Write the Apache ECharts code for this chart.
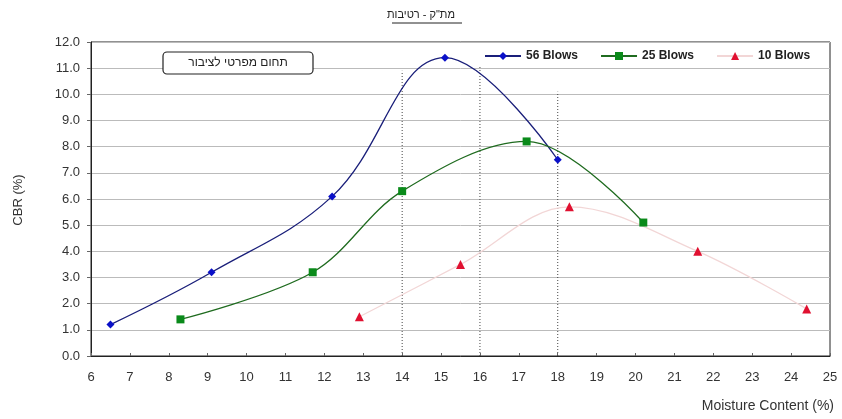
<!DOCTYPE html>
<html><head><meta charset="utf-8">
<script src="https://cdn.jsdelivr.net/npm/echarts@6/dist/echarts.min.js"></script>
<style>html,body{margin:0;padding:0;background:#fff}#c{width:842px;height:419px}</style>
</head><body><div id="c"></div>
<script>
const xTicks = [6,7,8,9,10,11,12,13,14,15,16,17,18,19,20,21,22,23,24,25];
const yTicks = [0,1,2,3,4,5,6,7,8,9,10,11,12];
const blows56 = [[6.5,1.2],[9.1,3.2],[12.2,6.1],[15.1,11.4],[18.0,7.5]];
const blows25 = [[8.3,1.4],[11.7,3.2],[14.0,6.3],[17.2,8.2],[20.2,5.1]];
const blows10 = [[12.9,1.5],[15.5,3.5],[18.3,5.7],[21.6,4.0],[24.4,1.8]];
const markerX = [14,16,18];
const markerTop = [10.9,11.3,10.1];
const seriesNames = ['56 Blows','25 Blows','10 Blows'];
const titleText = 'מת"ק - רטיבות';
const boxText = 'תחום מפרטי לציבור';
const xName = 'Moisture Content (%)';
const yName = 'CBR (%)';

const chart = echarts.init(document.getElementById('c'));
const font = 'Arial, "Liberation Sans", sans-serif';
const vSeries = markerX.map((x,i)=>({
  type:'line', name:'v'+i, data:[[x,0],[x,markerTop[i]]], symbol:'none', silent:true,
  lineStyle:{color:'#444', width:1, type:[1,2]}, z:1
}));
chart.setOption({
  animation:false,
  textStyle:{fontFamily:font},
  grid:{left:91,right:12,top:42,bottom:63,show:true,borderColor:'#222',borderWidth:1,containLabel:false},
  xAxis:{type:'value',min:6,max:25,interval:1,
    axisLine:{show:true,onZero:false,lineStyle:{color:'#222'}},
    axisTick:{show:true,inside:true,length:3,lineStyle:{color:'#666'}},
    axisLabel:{color:'#333',fontSize:13,margin:15,fontFamily:font},
    splitLine:{show:false}},
  yAxis:{type:'value',min:0,max:12,interval:1,
    axisLine:{show:true,lineStyle:{color:'#222'}},
    axisTick:{show:true,inside:false,length:4,lineStyle:{color:'#666'}},
    axisLabel:{color:'#333',fontSize:13,margin:11,formatter:v=>v.toFixed(1),fontFamily:font},
    splitLine:{show:true,lineStyle:{color:'#bbb',width:1}}},
  legend:{data:seriesNames,left:478,top:46,width:352,itemGap:22,itemWidth:36,itemHeight:10,
    backgroundColor:'#fff',padding:[4,6,4,6],
    textStyle:{fontSize:12,fontWeight:'bold',color:'#222',fontFamily:font}},
  series:[
    ...vSeries,
    {type:'line',name:seriesNames[0],data:blows56,smooth:0.4,symbol:'diamond',symbolSize:8,
      itemStyle:{color:'#0a10c8'},lineStyle:{color:'#1a1f7a',width:1.3},z:3},
    {type:'line',name:seriesNames[1],data:blows25,smooth:0.35,symbol:'rect',symbolSize:8,
      itemStyle:{color:'#0a8a1a'},lineStyle:{color:'#1f6b1f',width:1.3},z:3},
    {type:'line',name:seriesNames[2],data:blows10,smooth:0.35,symbol:'triangle',symbolSize:9,
      itemStyle:{color:'#e01030'},lineStyle:{color:'#f2d6d6',width:1.3},z:3}
  ],
  graphic:[
    {type:'text',left:'center',top:9,style:{text:titleText,fontSize:11,fill:'#222',fontFamily:font},z:10},
    {type:'line',shape:{x1:392,y1:23,x2:462,y2:23},style:{stroke:'#222',lineWidth:1},z:10},
    {type:'rect',shape:{x:163,y:52,width:150,height:22,r:4},style:{fill:'#fff',stroke:'#222',lineWidth:1.2},z:10},
    {type:'text',x:238,y:63,style:{text:boxText,fontSize:12,fill:'#222',align:'center',verticalAlign:'middle',fontFamily:font},z:11},
    {type:'text',x:18,y:200,rotation:Math.PI/2,style:{text:yName,fontSize:13,fill:'#333',align:'center',verticalAlign:'middle',fontFamily:font},z:10},
    {type:'text',right:8,top:399,style:{text:xName,fontSize:14,fill:'#333',fontFamily:font},z:10}
  ]
});
</script></body></html>
